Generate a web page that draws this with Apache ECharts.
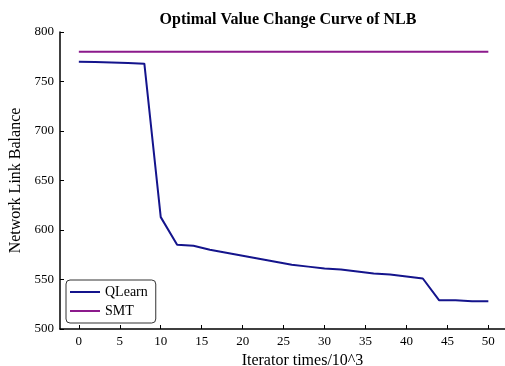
<!DOCTYPE html>
<html><head><meta charset="utf-8">
<script src="https://cdn.jsdelivr.net/npm/echarts@6/dist/echarts.min.js"></script>
<style>html,body{margin:0;padding:0;background:#fff}#c{width:505px;height:366px}</style>
</head><body><div id="c"></div>
<script>
var iterations = [0,2,4,6,8,10,12,14,16,18,20,22,24,26,28,30,32,34,36,38,40,42,44,46,48,50];
var qlearn = [770,769.6,769.2,768.8,768,613,585,584,580,577,574,571,568,565,563,561,560,558,556,555,553,551,529,529,528,528];
var smt = [780,780,780,780,780,780,780,780,780,780,780,780,780,780,780,780,780,780,780,780,780,780,780,780,780,780];
var xTicks = [0,5,10,15,20,25,30,35,40,45,50];
var yTicks = [500,550,600,650,700,750,800];

var font = 'Liberation Serif';
var chart = echarts.init(document.getElementById('c'));
function pairs(xs, ys){ return xs.map(function(x,i){return [x, ys[i]];}); }
chart.setOption({
  animation: false,
  title: { text: 'Optimal Value Change Curve of NLB', left: 283, top: 7, textAlign: 'center',
    textStyle: { fontFamily: font, fontSize: 16, fontWeight: 'bold', color: '#000' } },
  grid: { left: 60, right: -3, top: 32, bottom: 37, outerBoundsMode: 'none', containLabel: false },
  legend: {
    left: 66, top: 280, orient: 'vertical', itemWidth: 30, itemHeight: 2, itemGap: 5,
    padding: [5, 8, 5, 4], borderColor: '#333', borderWidth: 1, borderRadius: 4,
    textStyle: { fontFamily: font, fontSize: 14, color: '#000' },
    data: [{name:'QLearn', icon:'rect'}, {name:'SMT', icon:'rect'}]
  },
  xAxis: {
    type: 'value', min: -2.3, max: 52.4, interval: 5,
    name: 'Iterator times/10^3', nameLocation: 'middle', nameGap: 22,
    nameTextStyle: { fontFamily: font, fontSize: 16, color: '#000', padding: [0,0,0,37] },
    axisLine: { onZero: false, lineStyle: { color: '#000', width: 1.5 } },
    axisTick: { inside: true, length: 4, lineStyle: { color: '#000' }, customValues: xTicks },
    axisLabel: { fontFamily: font, fontSize: 13, color: '#000', customValues: xTicks, margin: 6 },
    splitLine: { show: false }
  },
  yAxis: {
    type: 'value', min: 500, max: 800, interval: 50,
    name: 'Network Link Balance', nameLocation: 'middle', nameGap: 32,
    nameTextStyle: { fontFamily: font, fontSize: 16, color: '#000' },
    axisLine: { show: true, onZero: false, lineStyle: { color: '#000', width: 1.5 } },
    axisTick: { show: true, inside: true, length: 4, lineStyle: { color: '#000' } },
    axisLabel: { fontFamily: font, fontSize: 13, color: '#000', margin: 6 },
    splitLine: { show: false }
  },
  series: [
    { name: 'QLearn', type: 'line', data: pairs(iterations, qlearn), showSymbol: false,
      color: '#14148c', lineStyle: { width: 2, color: '#14148c' } },
    { name: 'SMT', type: 'line', data: pairs(iterations, smt), showSymbol: false,
      color: '#8c1a8c', lineStyle: { width: 2, color: '#8c1a8c' } }
  ]
});
</script></body></html>
